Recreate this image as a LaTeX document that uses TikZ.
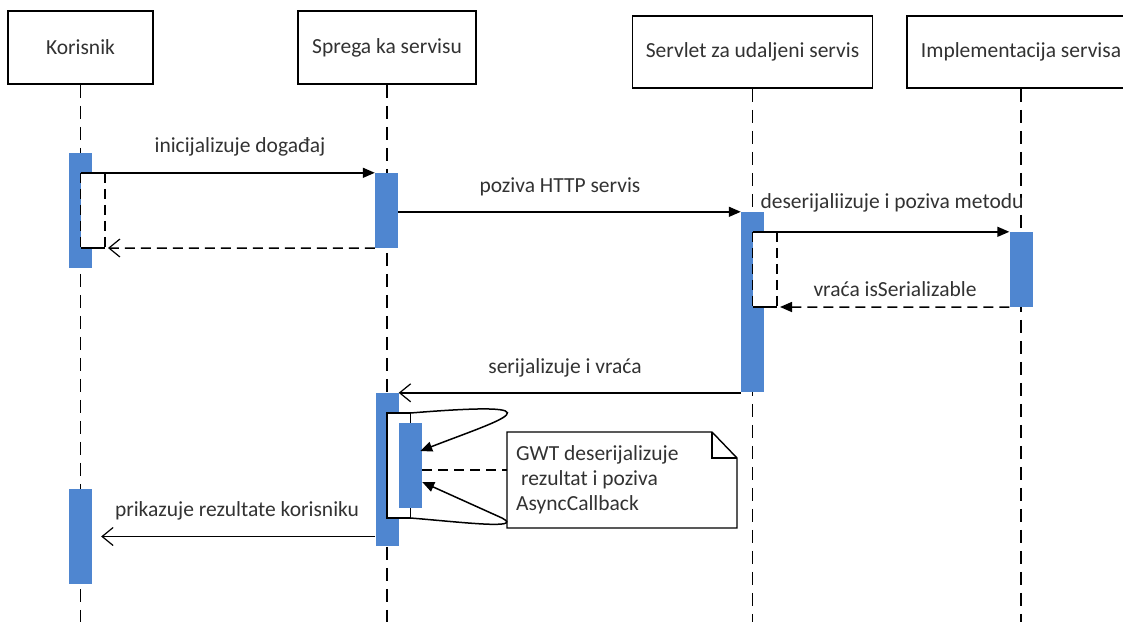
\documentclass[tikz,border=0pt]{standalone}
\usepackage{fontspec}
\setmainfont{Carlito}
\usetikzlibrary{arrows.meta,calc}
\definecolor{actblue}{RGB}{79,134,208}
\definecolor{inkgray}{RGB}{50,50,50}
\begin{document}
\begin{tikzpicture}[x=1pt,y=-1pt,
  font=\fontsize{21.5}{25}\selectfont,
  head/.style={draw=black, line width=1.6pt, fill=white, inner sep=0pt, text=inkgray},
  life/.style={draw=black, line width=1.6pt, dash pattern=on 13pt off 8pt},
  bar/.style={fill=actblue, draw=none, minimum width=23pt, inner sep=0pt},
  call/.style={line width=1.5pt, -{Triangle[length=12pt,width=10pt]}},
  reply/.style={line width=1.5pt, -{Straight Barb[length=11pt,width=18pt,line width=1.2pt]}},
  retdash/.style={line width=1.5pt, dash pattern=on 10pt off 6pt},
  lbl/.style={inner sep=0pt, text=inkgray}]
\useasboundingbox (0,0) rectangle (1123,621);
\clip (0,0) rectangle (1123,621);
\coordinate (bottom) at (0,625);

% participant heads
\node[head, minimum width=145pt, minimum height=73pt] (hK) at (80.5,47.5) {Korisnik};
\node[head, minimum width=178pt, minimum height=73pt] (hS) at (387,47.5) {Sprega ka servisu};
\node[head, minimum width=240pt, minimum height=72pt] (hV) at (752.5,52) {Servlet za udaljeni servis};
\node[head, minimum width=228pt, minimum height=72pt] (hI) at (1021,52) {Implementacija servisa};

% lifelines
\draw[life] (hK.south) -- (hK.south |- bottom);
\draw[life] (hS.south) -- (hS.south |- bottom);
\draw[life] (hV.south) -- (hV.south |- bottom);
\draw[life] (hI.south) -- (hI.south |- bottom);

% activation bars
\node[bar, minimum height=115pt] (kA) at (80.5,210.5) {};
\node[bar, minimum height=95pt]  (kB) at (80.5,536.5) {};
\node[bar, minimum height=75pt]  (sA) at (386.5,210.5) {};
\node[bar, minimum height=153pt] (sB) at (387,469.5) {};
\node[bar, minimum height=180pt] (vA) at (752.5,302) {};
\node[bar, minimum height=75pt]  (iA) at (1021,269.5) {};

% return frame on Korisnik
\coordinate (kRet) at (105,248);
\fill[white] (kA.center |- sA.north) rectangle (kRet);
\draw[retdash] (kA.center |- sA.north) -- (kA.center |- kRet);
\draw[retdash] (kRet |- sA.north) -- (kRet);
\draw[line width=1.5pt] (kA.center |- kRet) -- (kRet);

% return frame on the servlet
\coordinate (vRet) at (777,307);
\fill[white] (vA.center |- iA.north) rectangle (vRet);
\draw[retdash] (vA.center |- iA.north) -- (vA.center |- vRet);
\draw[retdash] (vRet |- iA.north) -- (vRet);
\draw[line width=1.5pt] (vA.center |- vRet) -- (vRet);

% nested activation on the service proxy
\coordinate (sTop) at (387,413);
\node[bar, minimum height=85pt] (sC) at (410.5,465.5) {};
\coordinate (sBot) at (410.5,518);
\fill[white] (sTop) rectangle (sBot);
\draw[line width=1.5pt] (sC.center |- sTop) -- (sTop) -- (sTop |- sBot) -- (sBot) -- (sC.center |- sTop);
\node[bar, minimum height=85pt] at (sC) {};

% messages
\draw[call] (kA.center |- sA.north) -- (sA.north west);
\draw[retdash, -{Straight Barb[length=11pt,width=18pt,line width=1.2pt]}] (sA.south west) -- ($(kRet)+(3,0)$);
\draw[call] (sA.east |- vA.north) -- (vA.north west);
\draw[call] (vA.center |- iA.north) -- (iA.north west);
\draw[retdash, -{Triangle[length=12pt,width=10pt]}] (iA.south west) -- ($(vRet)+(3,0)$);
\draw[reply] (vA.west |- sB.north) -- (sB.north east);
\draw[reply] (sB.west |- kB.center) -- ($(kB.east)+(9,0)$);

% self calls into the nested activation
\draw[call] (sC.center |- sTop) .. controls (570,400) and (500,420) .. ($(sC.east)+(-2,-14.5)$);
\draw[call] (sBot) .. controls (460,522) and (525,530) .. (502,518) -- ($(sC.east)+(0,16.5)$);

% note with folded corner
\path (507,432) coordinate (nNW) (737,528) coordinate (nSE);
\node[inner sep=0pt, align=left, anchor=north west, text=inkgray] (note) at (516,445)
  {GWT deserijalizuje\\\hspace*{5pt}rezultat i poziva\\AsyncCallback};
\draw[line width=1.4pt] (nNW |- nSE) -- (nNW) -- ($(nSE |- nNW)+(-25,0)$) -- ($(nSE |- nNW)+(0,26)$) -- (nSE) -- cycle;
\draw[line width=1.4pt] ($(nSE |- nNW)+(-25,0)$) -- ($(nSE |- nNW)+(-25,26)$) -- ($(nSE |- nNW)+(0,26)$);
\draw[retdash] (sC.east |- 0,470) -- (nNW |- 0,470);

% message labels
\node[lbl] (l1) at (240,147) {inicijalizuje događaj};
\node[lbl] (l2) at (560,187) {poziva HTTP servis};
\node[lbl] (l3) at (892,203) {deserijaliizuje i poziva metodu};
\node[lbl] (l4) at (895,289) {vraća isSerializable};
\node[lbl] (l5) at (565,368) {serijalizuje i vraća};
\node[lbl] (l6) at (237,511) {prikazuje rezultate korisniku};
\end{tikzpicture}
\end{document}
